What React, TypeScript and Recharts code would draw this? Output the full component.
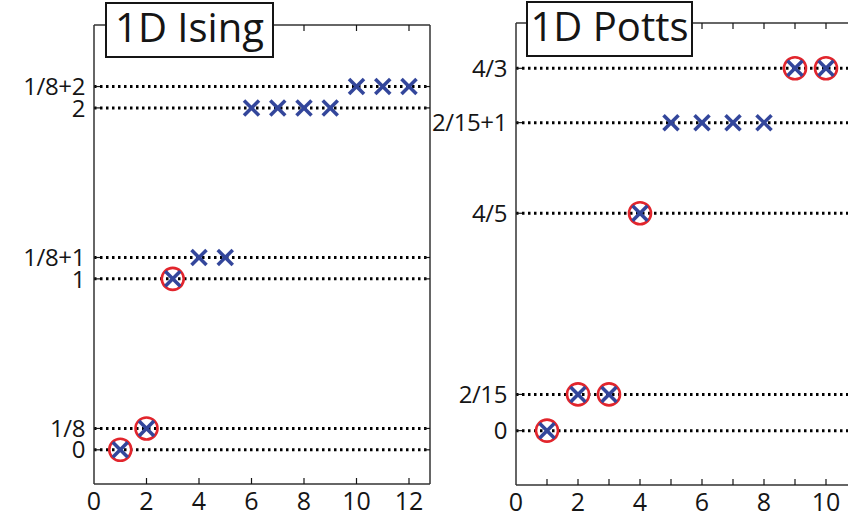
import React from 'react';
import { ScatterChart, Scatter, XAxis, YAxis, ReferenceLine } from 'recharts';

// 1D Ising: level index n, energy levels
const isingN = [1, 2, 3, 4, 5, 6, 7, 8, 9, 10, 11, 12];
const isingY = [0, 1 / 8, 1, 1 + 1 / 8, 1 + 1 / 8, 2, 2, 2, 2, 2 + 1 / 8, 2 + 1 / 8, 2 + 1 / 8];
const isingCircled = [1, 2, 3];
const isingLevels = [0, 1 / 8, 1, 1 + 1 / 8, 2, 2 + 1 / 8];
const isingLevelLabels = ['0', '1/8', '1', '1/8+1', '2', '1/8+2'];
const isingXTicks = [0, 2, 4, 6, 8, 10, 12];

// 1D Potts
const pottsN = [1, 2, 3, 4, 5, 6, 7, 8, 9, 10];
const pottsY = [0, 2 / 15, 2 / 15, 4 / 5, 1 + 2 / 15, 1 + 2 / 15, 1 + 2 / 15, 1 + 2 / 15, 4 / 3, 4 / 3];
const pottsCircled = [1, 2, 3, 4, 9, 10];
const pottsLevels = [0, 2 / 15, 4 / 5, 1 + 2 / 15, 4 / 3];
const pottsLevelLabels = ['0', '2/15', '4/5', '2/15+1', '4/3'];
const pottsXTicks = [0, 1, 2, 3, 4, 5, 6, 7, 8, 9, 10, 11];
const pottsXLabelled = [0, 2, 4, 6, 8, 10];

const FONT = '"Open Sans", sans-serif';
const INK = '#151515';
const BLUE = '#33469b';
const RED = '#e2252c';

const Cross = (p: any) => {
  const { cx, cy } = p;
  if (cx == null || cy == null) return <g />;
  const s = 7.5;
  return (
    <g stroke={BLUE} strokeWidth={3.5} strokeLinecap="butt">
      <line x1={cx - s} y1={cy - s} x2={cx + s} y2={cy + s} />
      <line x1={cx - s} y1={cy + s} x2={cx + s} y2={cy - s} />
    </g>
  );
};

const Ring = (p: any) => {
  const { cx, cy } = p;
  if (cx == null || cy == null) return <g />;
  return <circle cx={cx} cy={cy} r={11} fill="none" stroke={RED} strokeWidth={2.6} />;
};

const Nothing = () => <g />;

const BottomTick = (p: any) => {
  const { x, y, payload, labelled } = p;
  const v = payload.value;
  const show = labelled.includes(v);
  return (
    <g>
      {v > 0 && <line x1={x} y1={y} x2={x} y2={y - 6} stroke={INK} strokeWidth={1.2} />}
      {show && (
        <text x={x} y={y + 26} textAnchor="middle" fontSize={25} fontFamily={FONT} fill={INK}>
          {v}
        </text>
      )}
    </g>
  );
};

const TopTick = (p: any) => {
  const { x, y, payload } = p;
  if (payload.value <= 0) return <g />;
  return <line x1={x} y1={y} x2={x} y2={y + 6} stroke={INK} strokeWidth={1.2} />;
};

const LeftTick = (p: any) => {
  const { x, y, payload, levels, labels } = p;
  const i = levels.findIndex((l: number) => Math.abs(l - payload.value) < 1e-6);
  return (
    <g>
      <line x1={x} y1={y} x2={x + 6} y2={y} stroke={INK} strokeWidth={1.2} />
      <text x={x - 9} y={y} dy="0.36em" textAnchor="end" fontSize={24} letterSpacing={-0.4}
        fontFamily={FONT} fill={INK}>
        {i >= 0 ? labels[i] : ''}
      </text>
    </g>
  );
};

const RightTick = (p: any) => {
  const { x, y } = p;
  return <line x1={x} y1={y} x2={x - 6} y2={y} stroke={INK} strokeWidth={1.2} />;
};

interface PanelProps {
  left: number;
  width: number;
  leftAxis: number;
  rightAxis: number;
  topAxis: number;
  bottomAxis: number;
  xs: number[];
  ys: number[];
  circled: number[];
  levels: number[];
  labels: string[];
  xDomain: [number, number];
  yDomain: [number, number];
  xTicks: number[];
  xLabelled: number[];
}

const Panel: React.FC<PanelProps> = (pr) => {
  const crosses = pr.xs.map((x, i) => ({ x, y: pr.ys[i] }));
  const rings = crosses.filter(d => pr.circled.includes(d.x));
  const axisLine = { stroke: '#333', strokeWidth: 1.5 };
  return (
    <div style={{ position: 'absolute', left: pr.left, top: 0 }}>
      <ScatterChart width={pr.width} height={519} margin={{ top: 0, right: 0, bottom: 0, left: 0 }}>
        <XAxis xAxisId="b" type="number" dataKey="x" orientation="bottom" domain={pr.xDomain} ticks={pr.xTicks}
          interval={0} height={pr.bottomAxis} tickSize={0} tickMargin={0} axisLine={axisLine} tickLine={false}
          allowDataOverflow tick={(p: any) => <BottomTick {...p} labelled={pr.xLabelled} />} />
        <XAxis xAxisId="t" type="number" dataKey="x" orientation="top" domain={pr.xDomain} ticks={pr.xTicks}
          interval={0} height={pr.topAxis} tickSize={0} tickMargin={0} axisLine={axisLine} tickLine={false}
          allowDataOverflow tick={(p: any) => <TopTick {...p} />} />
        <YAxis yAxisId="l" type="number" dataKey="y" orientation="left" domain={pr.yDomain} ticks={pr.levels}
          interval={0} width={pr.leftAxis} tickSize={0} tickMargin={0} axisLine={axisLine} tickLine={false}
          allowDataOverflow tick={(p: any) => <LeftTick {...p} levels={pr.levels} labels={pr.labels} />} />
        <YAxis yAxisId="r" type="number" dataKey="y" orientation="right" domain={pr.yDomain} ticks={pr.levels}
          interval={0} width={pr.rightAxis} tickSize={0} tickMargin={0} axisLine={axisLine} tickLine={false}
          allowDataOverflow tick={(p: any) => <RightTick {...p} />} />
        {pr.levels.map(v => (
          <ReferenceLine key={v} xAxisId="b" yAxisId="l" y={v} stroke="#000" strokeWidth={3}
            strokeDasharray="2.5 3.5" />
        ))}
        <Scatter xAxisId="t" yAxisId="r" data={crosses} shape={Nothing} isAnimationActive={false} />
        <Scatter xAxisId="b" yAxisId="l" data={rings} shape={Ring} isAnimationActive={false} />
        <Scatter xAxisId="b" yAxisId="l" data={crosses} shape={Cross} isAnimationActive={false} />
      </ScatterChart>
    </div>
  );
};

const TitleBox: React.FC<{ left: number; top: number; width: number; height: number; text: string }> = (t) => (
  <div style={{
    position: 'absolute', left: t.left, top: t.top, width: t.width, height: t.height,
    boxSizing: 'border-box', border: `2px solid ${INK}`, background: '#fff',
    fontFamily: FONT, fontSize: 40, lineHeight: '45px', color: INK, textAlign: 'center',
    whiteSpace: 'nowrap',
  }}>
    {t.text}
  </div>
);

export default function App() {
  return (
    <div style={{ position: 'absolute', left: 0, top: 0, width: 848, height: 519, overflow: 'hidden', background: '#fff' }}>
      <Panel left={0} width={440} leftAxis={94} rightAxis={10} topAxis={25} bottomAxis={35}
        xs={isingN} ys={isingY} circled={isingCircled} levels={isingLevels} labels={isingLevelLabels}
        xDomain={[0, 12.8]} yDomain={[-0.2, 2.485]} xTicks={isingXTicks} xLabelled={isingXTicks} />
      <Panel left={420} width={450} leftAxis={96} rightAxis={13} topAxis={23} bottomAxis={34}
        xs={pottsN} ys={pottsY} circled={pottsCircled} levels={pottsLevels} labels={pottsLevelLabels}
        xDomain={[0, 11]} yDomain={[-0.2, 1.5]} xTicks={pottsXTicks} xLabelled={pottsXLabelled} />
      <TitleBox left={105} top={2} width={169} height={56} text="1D Ising" />
      <TitleBox left={526} top={1} width={167} height={56} text="1D Potts" />
    </div>
  );
}
